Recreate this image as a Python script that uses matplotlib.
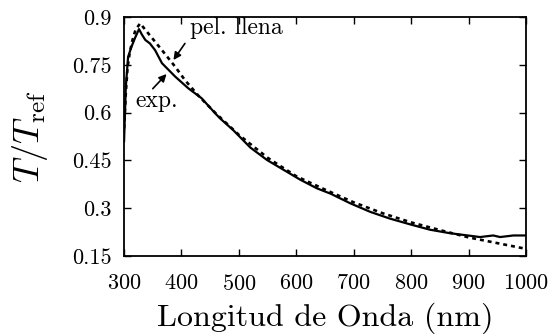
"""
Transmitancia relativa: experimento vs. pelicula llena
"""

import matplotlib
matplotlib.use("Agg")
import matplotlib.pyplot as plt

plt.rcParams["font.family"] = "serif"
plt.rcParams["font.serif"] = ["cmr10", "DejaVu Serif"]
plt.rcParams["mathtext.fontset"] = "cm"
plt.rcParams["axes.formatter.use_mathtext"] = True

# curva experimental (linea continua)
exp_x = [300, 303, 307, 313, 319, 326, 331, 337, 345, 354, 366, 389, 412,
         435, 458, 467, 490, 520, 549, 578, 607, 636, 660, 694, 729, 763,
         798, 833, 868, 903, 920, 943, 955, 978, 1000]
exp_y = [0.51, 0.68, 0.775, 0.807, 0.834, 0.862, 0.845, 0.828, 0.817, 0.796,
         0.755, 0.713, 0.676, 0.645, 0.599, 0.582, 0.545, 0.49, 0.451, 0.42,
         0.389, 0.362, 0.345, 0.315, 0.288, 0.267, 0.249, 0.232, 0.221, 0.213,
         0.209, 0.214, 0.209, 0.214, 0.214]

# pelicula llena (linea de puntos)
pel_x = [300, 303, 306, 310, 315, 320, 328, 342, 366, 389, 406, 430, 460,
         500, 550, 600, 650, 700, 750, 800, 850, 900, 950, 1000]
pel_y = [0.55, 0.66, 0.74, 0.79, 0.83, 0.86, 0.88, 0.849, 0.796, 0.744,
         0.702, 0.652, 0.597, 0.53, 0.458, 0.40, 0.358, 0.318, 0.284, 0.255,
         0.231, 0.208, 0.19, 0.172]

xticks = [300, 400, 500, 600, 700, 800, 900, 1000]
yticks = [0.15, 0.3, 0.45, 0.6, 0.75, 0.9]
ytick_labels = ["0.15", "0.3", "0.45", "0.6", "0.75", "0.9"]

fig = plt.figure(figsize=(5.49, 3.34), dpi=100)
ax = fig.add_axes([0.226, 0.234, 0.732, 0.715])

ax.plot(exp_x, exp_y, color="black", lw=1.6)
ax.plot(pel_x, pel_y, color="black", lw=1.9, dashes=(1.5, 1.5))

ax.set_xlim(300, 1000)
ax.set_ylim(0.15, 0.9)
ax.set_xticks(xticks)
ax.set_yticks(yticks)
ax.set_yticklabels(ytick_labels)
ax.tick_params(direction="in", top=True, right=True, length=5, width=1,
               labelsize=16)
ax.tick_params(axis="x", pad=13)
ax.tick_params(axis="y", pad=9)
for s in ax.spines.values():
    s.set_linewidth(1.3)

ax.set_xlabel("Longitud de Onda (nm)", fontsize=23, labelpad=6)
ax.set_ylabel(r"$T/T_{\rm ref}$", fontsize=26, labelpad=16)

arrow = dict(arrowstyle="-|>", color="black", lw=1.2, mutation_scale=11,
             shrinkA=0, shrinkB=0)
ax.annotate("", xy=(386, 0.765), xytext=(406, 0.817), arrowprops=arrow)
ax.text(414, 0.867, "pel. llena", fontsize=17, ha="left", va="center")
ax.annotate("", xy=(374, 0.721), xytext=(350, 0.675), arrowprops=arrow)
ax.text(357, 0.636, "exp.", fontsize=17, ha="center", va="center")

fig.savefig("out.png", dpi=100)
